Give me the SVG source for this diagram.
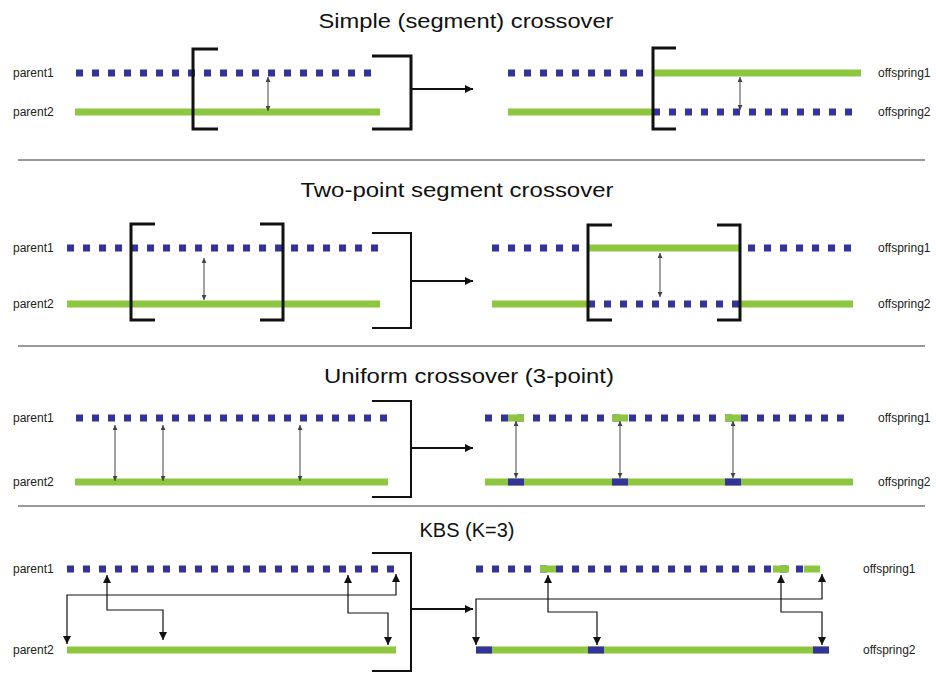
<svg xmlns="http://www.w3.org/2000/svg" width="936" height="673" viewBox="0 0 936 673">
<style>
.title{font-family:"Liberation Sans",Arial,sans-serif;font-size:20px;fill:#111;text-anchor:middle}
.lbl{font-family:"Liberation Sans",Arial,sans-serif;font-size:12px;fill:#222}
.dots{stroke:#333399;stroke-width:7;stroke-dasharray:7 9;fill:none}
.green{stroke:#8dc63f;stroke-width:7;fill:none}
.gr{fill:#8dc63f}
.bl{fill:#333399}
.br{stroke:#111;stroke-width:3;fill:none}
.br2{stroke:#111;stroke-width:2;fill:none}
.sep{stroke:#333;stroke-width:1}
.big{stroke:#111;stroke-width:2;fill:none;marker-end:url(#bigA)}
.dbl{stroke:#444;stroke-width:1;fill:none;marker-start:url(#smA);marker-end:url(#smA)}
.kbs{stroke:#111;stroke-width:1.2;fill:none;marker-start:url(#kA);marker-end:url(#kA)}
</style>
<defs>
<marker id="smA" viewBox="0 0 6 6" refX="6" refY="3" markerWidth="5" markerHeight="5" markerUnits="userSpaceOnUse" orient="auto-start-reverse"><path d="M0,0 L6,3 L0,6 z" fill="#444"/></marker>
<marker id="kA" viewBox="0 0 8 8" refX="8" refY="4" markerWidth="9" markerHeight="8" markerUnits="userSpaceOnUse" orient="auto-start-reverse"><path d="M0,0 L8,4 L0,8 z" fill="#111"/></marker>
<marker id="bigA" viewBox="0 0 8 8" refX="8" refY="4" markerWidth="9" markerHeight="8" markerUnits="userSpaceOnUse" orient="auto"><path d="M0,0 L8,4 L0,8 z" fill="#111"/></marker>
</defs>
<rect width="936" height="673" fill="#fff"/>

<g id="titles">
<text class="title" x="466" y="28" textLength="295" lengthAdjust="spacingAndGlyphs">Simple (segment) crossover</text>
<text class="title" x="457" y="197" textLength="313" lengthAdjust="spacingAndGlyphs">Two-point segment crossover</text>
<text class="title" x="469" y="383" textLength="290" lengthAdjust="spacingAndGlyphs">Uniform crossover (3-point)</text>
<text class="title" x="467" y="537" textLength="95" lengthAdjust="spacingAndGlyphs">KBS (K=3)</text>
</g>

<g id="separators">
<line class="sep" x1="18" y1="160" x2="925" y2="160"/>
<line class="sep" x1="18" y1="346" x2="925" y2="346"/>
<line class="sep" x1="18" y1="506" x2="925" y2="506"/>
</g>

<!-- Section 1 -->
<g id="s1-parent1"><text class="lbl" x="13" y="77">parent1</text><line class="dots" x1="76" y1="73" x2="373" y2="73"/></g>
<g id="s1-parent2"><text class="lbl" x="13" y="116">parent2</text><line class="green" x1="75" y1="112" x2="380" y2="112"/></g>
<g id="s1-offspring1"><line class="dots" x1="508" y1="73" x2="645" y2="73"/><line class="green" x1="653" y1="73" x2="861" y2="73"/><text class="lbl" x="878" y="77">offspring1</text></g>
<g id="s1-offspring2"><line class="green" x1="508" y1="112" x2="653" y2="112"/><line class="dots" x1="653" y1="112" x2="856" y2="112"/><text class="lbl" x="878" y="116">offspring2</text></g>
<g id="s1-brackets">
<path class="br" d="M218,49 H193 V129 H218"/>
<path class="br" d="M372,56 H411 V129 H372"/>
<path class="br" d="M676,48 H653 V129 H676"/>
</g>

<!-- Section 2 -->
<g id="s2-parent1"><text class="lbl" x="13" y="252">parent1</text><line class="dots" x1="67" y1="248" x2="380" y2="248"/></g>
<g id="s2-parent2"><text class="lbl" x="13" y="308">parent2</text><line class="green" x1="67" y1="304" x2="380" y2="304"/></g>
<g id="s2-offspring1"><line class="dots" x1="492" y1="248" x2="581" y2="248"/><line class="green" x1="588" y1="248" x2="740" y2="248"/><line class="dots" x1="748" y1="248" x2="853" y2="248"/><text class="lbl" x="878" y="252">offspring1</text></g>
<g id="s2-offspring2"><line class="green" x1="492" y1="304" x2="588" y2="304"/><line class="dots" x1="588" y1="304" x2="740" y2="304"/><line class="green" x1="740" y1="304" x2="853" y2="304"/><text class="lbl" x="878" y="308">offspring2</text></g>
<g id="s2-brackets">
<path class="br" d="M155,224 H131 V320 H155"/>
<path class="br" d="M260,224 H283 V320 H260"/>
<path class="br2" d="M372,233 H411 V328 H372"/>
<path class="br" d="M612,225 H588 V320 H612"/>
<path class="br" d="M717,225 H740 V320 H717"/>
</g>

<!-- Section 3 -->
<g id="s3-parent1"><text class="lbl" x="13" y="422">parent1</text><line class="dots" x1="76" y1="418" x2="388" y2="418"/></g>
<g id="s3-parent2"><text class="lbl" x="13" y="486">parent2</text><line class="green" x1="75" y1="482" x2="388" y2="482"/></g>
<g id="s3-offspring1"><line class="dots" x1="485" y1="418" x2="848" y2="418"/>
<rect class="gr" x="508" y="414.5" width="16" height="7"/><rect class="gr" x="612" y="414.5" width="16" height="7"/><rect class="gr" x="725" y="414.5" width="16" height="7"/>
<text class="lbl" x="878" y="422">offspring1</text></g>
<g id="s3-offspring2"><line class="green" x1="485" y1="482" x2="853" y2="482"/>
<rect class="bl" x="508" y="478.5" width="16" height="7"/><rect class="bl" x="612" y="478.5" width="16" height="7"/><rect class="bl" x="725" y="478.5" width="16" height="7"/>
<text class="lbl" x="878" y="486">offspring2</text></g>
<g id="s3-brackets"><path class="br2" d="M372,401 H411 V497 H372"/></g>

<!-- Section 4 -->
<g id="s4-parent1"><text class="lbl" x="13" y="573">parent1</text><line class="dots" x1="67" y1="569" x2="396" y2="569"/></g>
<g id="s4-parent2"><text class="lbl" x="13" y="654">parent2</text><line class="green" x1="67" y1="650" x2="396" y2="650"/></g>
<g id="s4-offspring1"><line class="dots" x1="476" y1="569" x2="804" y2="569"/>
<rect class="gr" x="540" y="565.5" width="16" height="7"/><rect class="gr" x="773" y="565.5" width="16" height="7"/><rect class="gr" x="804" y="565.5" width="16" height="7"/>
<text class="lbl" x="863" y="573">offspring1</text></g>
<g id="s4-offspring2"><line class="green" x1="476" y1="650" x2="829" y2="650"/>
<rect class="bl" x="476" y="646.5" width="16" height="7"/><rect class="bl" x="588" y="646.5" width="16" height="7"/><rect class="bl" x="813" y="646.5" width="16" height="7"/>
<text class="lbl" x="863" y="654">offspring2</text></g>
<g id="s4-brackets"><path class="br2" d="M372,553 H411 V671 H372"/></g>

<g id="connectors">
<path class="big" d="M411,89 H473"/>
<path class="big" d="M411,281 H473"/>
<path class="big" d="M411,448 H473"/>
<path class="big" d="M411,609 H473"/>
<path class="dbl" d="M268,77 V111"/>
<path class="dbl" d="M740,77 V110"/>
<path class="dbl" d="M204,258 V300"/>
<path class="dbl" d="M660,253 V297"/>
<path class="dbl" d="M115,425 V481"/>
<path class="dbl" d="M163,425 V481"/>
<path class="dbl" d="M300,425 V481"/>
<path class="dbl" d="M516,421 V478"/>
<path class="dbl" d="M620,421 V478"/>
<path class="dbl" d="M733,421 V478"/>
<path class="kbs" d="M67,644 V595 H396 V574"/>
<path class="kbs" d="M107,575 V610 H163 V640"/>
<path class="kbs" d="M348,575 V613 H388 V645"/>
<path class="kbs" d="M476,645 V599 H822 V574"/>
<path class="kbs" d="M548,575 V612 H597 V645"/>
<path class="kbs" d="M781,575 V612 H822 V645"/>
</g>
</svg>
